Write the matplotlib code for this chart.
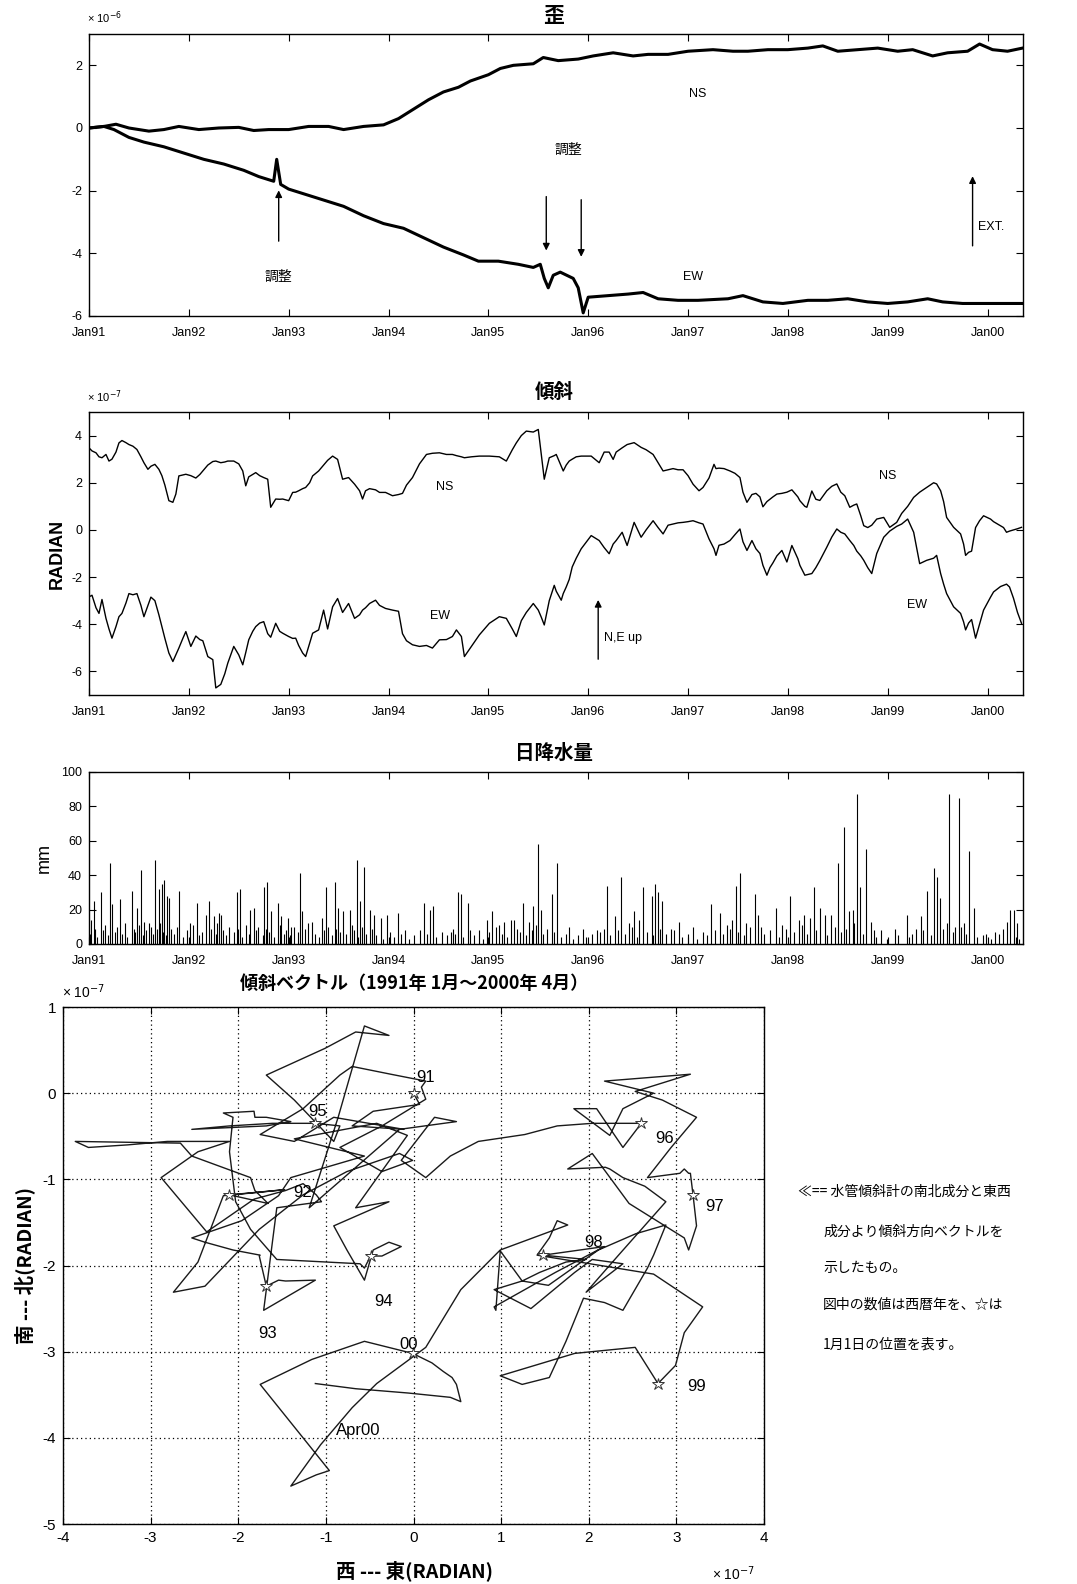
import numpy as np
import matplotlib.pyplot as plt

plt.rcParams['font.family'] = ['Liberation Sans Narrow', 'Liberation Sans', 'Noto Sans CJK JP', 'DejaVu Sans']
plt.rcParams['xtick.direction'] = 'in'
plt.rcParams['ytick.direction'] = 'in'
plt.rcParams['axes.unicode_minus'] = False
JP = ['Noto Sans CJK JP', 'DejaVu Sans']

# ---------------- data ----------------
# strain (x1e-6)
strain_ns_t = [1991.00, 1991.15, 1991.27, 1991.40, 1991.60, 1991.75, 1991.90, 1992.10, 1992.30, 1992.50,
               1992.65, 1992.80, 1993.00, 1993.20, 1993.40, 1993.55, 1993.75, 1993.95, 1994.10, 1994.25,
               1994.40, 1994.55, 1994.70, 1994.82, 1995.00, 1995.12, 1995.25, 1995.45, 1995.55, 1995.70,
               1995.90, 1996.05, 1996.25, 1996.45, 1996.60, 1996.80, 1997.00, 1997.25, 1997.45, 1997.60,
               1997.80, 1998.00, 1998.20, 1998.35, 1998.50, 1998.70, 1998.90, 1999.10, 1999.25, 1999.45,
               1999.60, 1999.80, 1999.92, 2000.05, 2000.20, 2000.35]
strain_ns = [0.0, 0.05, 0.12, 0.0, -0.1, -0.05, 0.05, -0.05, 0.0, 0.02,
             -0.08, -0.05, -0.05, 0.05, 0.05, -0.05, 0.05, 0.1, 0.3, 0.6,
             0.9, 1.15, 1.3, 1.5, 1.7, 1.9, 2.0, 2.05, 2.25, 2.15,
             2.2, 2.3, 2.4, 2.3, 2.35, 2.35, 2.45, 2.5, 2.45, 2.45,
             2.5, 2.5, 2.55, 2.62, 2.45, 2.5, 2.55, 2.45, 2.5, 2.3,
             2.4, 2.45, 2.68, 2.5, 2.45, 2.55]
strain_ew_t = [1991.00, 1991.15, 1991.25, 1991.40, 1991.55, 1991.75, 1991.95, 1992.15, 1992.35, 1992.55,
               1992.70, 1992.85, 1992.88, 1992.92, 1993.00, 1993.15, 1993.35, 1993.55, 1993.75, 1993.95,
               1994.15, 1994.35, 1994.55, 1994.75, 1994.90, 1995.10, 1995.30, 1995.45, 1995.52, 1995.56,
               1995.60, 1995.65, 1995.72, 1995.85, 1995.90, 1995.95, 1996.00, 1996.20, 1996.40, 1996.55,
               1996.70, 1996.90, 1997.10, 1997.40, 1997.55, 1997.75, 1997.95, 1998.20, 1998.40, 1998.60,
               1998.80, 1999.00, 1999.20, 1999.40, 1999.55, 1999.75, 2000.00, 2000.35]
strain_ew = [0.0, 0.05, -0.05, -0.3, -0.45, -0.6, -0.8, -1.0, -1.15, -1.35,
             -1.55, -1.7, -1.0, -1.8, -1.95, -2.1, -2.3, -2.5, -2.8, -3.05,
             -3.2, -3.5, -3.8, -4.05, -4.25, -4.25, -4.35, -4.45, -4.35, -4.8,
             -5.1, -4.7, -4.6, -4.8, -5.1, -5.9, -5.4, -5.35, -5.3, -5.25,
             -5.45, -5.5, -5.5, -5.45, -5.35, -5.55, -5.6, -5.5, -5.5, -5.45,
             -5.55, -5.6, -5.55, -5.45, -5.55, -5.6, -5.6, -5.6]

# tilt (x1e-7 radian), NS and EW sampled at the same dates
tilt_t = [1991.00, 1991.03, 1991.07, 1991.10, 1991.13, 1991.17, 1991.20, 1991.23, 1991.27, 1991.30,
          1991.33, 1991.37, 1991.40, 1991.44, 1991.48, 1991.52, 1991.55, 1991.59, 1991.62, 1991.66,
          1991.70, 1991.73, 1991.76, 1991.80, 1991.84, 1991.87, 1991.90, 1991.94, 1991.97, 1992.02,
          1992.07, 1992.11, 1992.14, 1992.19, 1992.24, 1992.27, 1992.32, 1992.36, 1992.39, 1992.45,
          1992.50, 1992.54, 1992.57, 1992.60, 1992.64, 1992.67, 1992.71, 1992.75, 1992.79, 1992.82,
          1992.87, 1992.91, 1992.94, 1993.00, 1993.04, 1993.07, 1993.10, 1993.14, 1993.17, 1993.21,
          1993.24, 1993.30, 1993.35, 1993.39, 1993.44, 1993.49, 1993.54, 1993.60, 1993.66, 1993.71,
          1993.74, 1993.77, 1993.81, 1993.87, 1993.91, 1993.97, 1994.04, 1994.10, 1994.14, 1994.18,
          1994.24, 1994.31, 1994.38, 1994.44, 1994.51, 1994.58, 1994.64, 1994.68, 1994.73, 1994.76,
          1994.83, 1994.91, 1995.01, 1995.11, 1995.18, 1995.24, 1995.28, 1995.33, 1995.38, 1995.45,
          1995.50, 1995.53, 1995.56, 1995.61, 1995.66, 1995.68, 1995.73, 1995.75, 1995.78, 1995.81,
          1995.84, 1995.88, 1995.93, 1996.03, 1996.11, 1996.16, 1996.21, 1996.25, 1996.28, 1996.34,
          1996.39, 1996.46, 1996.53, 1996.58, 1996.65, 1996.70, 1996.75, 1996.80, 1996.85, 1996.90,
          1996.95, 1997.00, 1997.05, 1997.11, 1997.15, 1997.21, 1997.26, 1997.28, 1997.31, 1997.36,
          1997.42, 1997.47, 1997.52, 1997.55, 1997.59, 1997.64, 1997.68, 1997.72, 1997.75, 1997.79,
          1997.82, 1997.85, 1997.89, 1997.94, 1997.99, 1998.04, 1998.10, 1998.12, 1998.17, 1998.19,
          1998.24, 1998.28, 1998.32, 1998.39, 1998.44, 1998.49, 1998.53, 1998.57, 1998.62, 1998.66,
          1998.69, 1998.73, 1998.76, 1998.80, 1998.84, 1998.89, 1998.93, 1998.96, 1999.02, 1999.09,
          1999.14, 1999.20, 1999.26, 1999.32, 1999.39, 1999.46, 1999.49, 1999.53, 1999.56, 1999.59,
          1999.66, 1999.73, 1999.76, 1999.78, 1999.81, 1999.84, 1999.88, 1999.92, 1999.96, 2000.03,
          2000.06, 2000.10, 2000.13, 2000.16, 2000.19, 2000.22, 2000.26, 2000.30, 2000.34]
tilt_ns = [3.48, 3.35, 3.27, 3.1, 3.06, 3.2, 2.92, 3.0, 3.3, 3.69,
           3.79, 3.7, 3.62, 3.55, 3.41, 3.1, 2.85, 2.57, 2.7, 2.78,
           2.57, 2.3, 1.9, 1.24, 1.17, 1.52, 2.29, 2.33, 2.36, 2.3,
           2.2, 2.35, 2.5, 2.75, 2.9, 2.92, 2.85, 2.88, 2.92, 2.92,
           2.8, 2.5, 1.87, 2.25, 2.35, 2.43, 2.3, 2.22, 2.15, 0.96,
           1.31, 1.3, 1.31, 1.24, 1.59, 1.6, 1.66, 1.75, 1.8, 2.0,
           2.29, 2.5, 2.75, 2.95, 3.13, 2.99, 2.15, 2.22, 1.94, 1.66,
           1.31, 1.66, 1.75, 1.7, 1.59, 1.59, 1.45, 1.5, 1.55, 1.9,
           2.22, 2.8, 3.2, 3.25, 3.27, 3.2, 3.2, 3.15, 3.1, 3.06,
           3.1, 3.13, 3.13, 3.1, 2.92, 3.4, 3.69, 4.0, 4.19, 4.15,
           4.26, 3.2, 2.15, 3.06, 3.15, 3.2, 2.7, 2.5, 2.75, 2.92,
           3.0, 3.1, 3.13, 3.13, 2.85, 3.3, 3.3, 2.99, 3.3, 3.48,
           3.62, 3.7, 3.5, 3.4, 3.2, 2.85, 2.5, 2.55, 2.6, 2.55,
           2.55, 2.3, 1.94, 1.66, 1.8, 2.2, 2.78, 2.6, 2.62, 2.6,
           2.5, 2.4, 2.22, 1.6, 1.17, 1.5, 1.55, 1.4, 0.98, 1.2,
           1.3, 1.4, 1.52, 1.55, 1.6, 1.7, 1.4, 1.24, 1.0, 0.96,
           1.65, 1.3, 1.25, 1.66, 1.85, 1.95, 1.6, 1.45, 0.96, 1.05,
           1.1, 0.6, 0.18, 0.1, 0.2, 0.46, 0.5, 0.53, 0.11, 0.32,
           0.7, 1.0, 1.38, 1.6, 1.8, 2.0, 1.95, 1.66, 1.2, 0.53,
           0.11, -0.17, -0.6, -1.08, -0.95, -0.9, 0.1, 0.39, 0.6, 0.46,
           0.35, 0.25, 0.18, 0.1, -0.1, -0.05, 0.0, 0.05, 0.11]
tilt_ew = [-2.84, -2.77, -3.3, -3.54, -2.95, -3.75, -4.2, -4.59, -4.1, -3.68,
           -3.54, -3.1, -2.7, -2.75, -2.7, -3.2, -3.68, -3.2, -2.85, -3.0,
           -3.6, -4.1, -4.6, -5.22, -5.58, -5.3, -5.01, -4.6, -4.31, -4.94,
           -4.5, -4.65, -4.7, -5.37, -5.5, -6.7, -6.55, -6.1, -5.65, -4.94,
           -5.3, -5.72, -5.2, -4.66, -4.3, -4.1, -3.95, -3.89, -4.4, -4.55,
           -3.96, -4.3, -4.38, -4.52, -4.6, -4.59, -4.9, -5.22, -5.37, -4.8,
           -4.38, -4.24, -3.4, -4.2, -3.26, -2.91, -3.5, -3.12, -3.75, -3.6,
           -3.4, -3.3, -3.12, -2.98, -3.2, -3.33, -3.4, -3.45, -4.4, -4.7,
           -4.87, -4.94, -4.9, -5.01, -4.66, -4.65, -4.52, -4.24, -4.52, -5.37,
           -4.94, -4.45, -3.96, -3.68, -3.75, -4.2, -4.52, -3.85, -3.5, -3.12,
           -3.4, -3.7, -4.03, -3.0, -2.35, -2.6, -2.98, -2.7, -2.42, -2.1,
           -1.57, -1.2, -0.8, -0.24, -0.45, -0.75, -1.01, -0.6, -0.45, -0.1,
           -0.66, 0.32, -0.31, 0.0, 0.39, 0.1, -0.17, 0.2, 0.25, 0.3,
           0.32, 0.35, 0.39, 0.3, 0.25, -0.38, -0.8, -1.08, -0.65, -0.6,
           -0.45, -0.2, 0.04, -0.5, -0.87, -0.45, -0.8, -1.0, -1.5, -1.92,
           -1.6, -1.4, -1.1, -0.87, -1.36, -0.66, -1.22, -1.5, -1.92, -1.9,
           -1.85, -1.6, -1.3, -0.73, -0.3, 0.04, -0.1, -0.17, -0.45, -0.66,
           -0.9, -1.1, -1.29, -1.6, -1.85, -1.0, -0.6, -0.31, -0.05, 0.15,
           0.25, 0.46, -0.1, -1.43, -1.29, -1.2, -1.08, -1.85, -2.3, -2.7,
           -3.26, -3.54, -3.9, -4.24, -3.95, -3.8, -4.59, -4.0, -3.4, -2.85,
           -2.63, -2.5, -2.4, -2.35, -2.3, -2.42, -2.9, -3.5, -3.96]

# daily rainfall (days after 1 Jan 1991, mm)
rain_day = [8, 18, 45, 75, 83, 113, 156, 176, 191, 201, 218, 241, 256, 266, 276, 286, 294, 331, 369, 394,
            427, 439, 457, 477, 484, 540, 552, 590, 602, 640, 653, 665, 690, 703, 728, 740, 773, 781, 816, 853,
            866, 899, 911, 929, 954, 979, 991, 1007, 1029, 1042, 1067, 1092, 1130, 1155, 1225, 1247, 1260, 1323, 1350, 1360,
            1385, 1426, 1456, 1476, 1501, 1519, 1544, 1556, 1586, 1611, 1626, 1642, 1652, 1692, 1712, 1757, 1807, 1857, 1895, 1923,
            1945, 1975, 1995, 2013, 2028, 2058, 2071, 2083, 2098, 2128, 2158, 2209, 2246, 2277, 2309, 2334, 2354, 2367, 2382, 2405,
            2435, 2447, 2460, 2515, 2535, 2565, 2598, 2615, 2636, 2651, 2673, 2691, 2716, 2741, 2761, 2781, 2794, 2811, 2821, 2841,
            2861, 2897, 2949, 2992, 3025, 3042, 3067, 3092, 3102, 3112, 3138, 3148, 3168, 3183, 3200, 3220, 3238, 3283, 3313, 3358,
            3371, 3384, 3394, 3404]
rain_mm = [14, 25, 30, 47, 23, 26, 31, 21, 43, 13, 12, 49, 32, 35, 37, 28, 27, 31, 12, 24,
           17, 25, 16, 18, 17, 30, 32, 20, 21, 33, 36, 19, 24, 16, 15, 10, 41, 19, 13, 15,
           33, 36, 21, 19, 20, 49, 25, 45, 20, 17, 15, 17, 18, 8, 24, 20, 22, 7, 30, 29,
           24, 8, 14, 19, 11, 13, 14, 14, 24, 13, 22, 58, 20, 29, 47, 10, 9, 8, 34, 16,
           39, 12, 19, 14, 33, 28, 35, 30, 25, 9, 13, 10, 7, 23, 18, 11, 14, 34, 41, 12,
           29, 17, 10, 21, 11, 28, 14, 17, 15, 33, 21, 17, 17, 47, 68, 19, 20, 87, 33, 55,
           13, 8, 9, 17, 9, 16, 31, 44, 39, 27, 12, 87, 10, 85, 12, 54, 21, 6, 7, 13,
           20, 20, 12, 3]
small_day = [3, 22, 30, 52, 60, 68, 95, 104, 122, 130, 140, 163, 170, 183, 196, 208, 225, 233, 248, 260,
             270, 281, 300, 312, 322, 345, 360, 380, 402, 415, 445, 463, 470, 490, 500, 512, 530, 545, 560, 575,
             585, 610, 620, 635, 646, 660, 675, 697, 712, 720, 735, 750, 765, 790, 800, 825, 840, 860, 875, 890,
             905, 920, 940, 962, 970, 985, 998, 1015, 1035, 1050, 1075, 1100, 1115, 1140, 1170, 1190, 1210, 1235, 1270, 1290,
             1310, 1330, 1340, 1370, 1395, 1410, 1440, 1465, 1490, 1510, 1530, 1565, 1575, 1598, 1620, 1635, 1660, 1675, 1700, 1725,
             1745, 1770, 1790, 1820, 1840, 1870, 1885, 1905, 1935, 1960, 1985, 2005, 2040, 2065, 2090, 2110, 2140, 2170, 2190, 2225,
             2260, 2290, 2320, 2345, 2375, 2395, 2420, 2470, 2490, 2525, 2550, 2580, 2610, 2625, 2660, 2700, 2730, 2750, 2770, 2800,
             2830, 2870, 2880, 2920, 2960, 3000, 3010, 3050, 3080, 3125, 3160, 3190, 3210, 3250, 3270, 3300, 3330, 3345, 3390]
small_mm = [6, 9, 4, 8, 11, 5, 7, 10, 6, 12, 4, 9, 7, 11, 5, 8, 10, 6, 9, 12,
            7, 5, 9, 6, 10, 4, 8, 11, 5, 7, 9, 6, 12, 8, 5, 10, 7, 9, 4, 11,
            6, 8, 10, 5, 9, 7, 4, 11, 6, 8, 5, 10, 7, 9, 12, 6, 4, 8, 10, 5,
            9, 7, 6, 11, 8, 4, 10, 6, 9, 5, 3, 7, 4, 6, 3, 5, 8, 6, 4, 7,
            5, 9, 6, 4, 8, 5, 3, 7, 10, 6, 4, 9, 7, 5, 8, 11, 6, 9, 7, 4,
            6, 3, 5, 4, 6, 7, 9, 5, 8, 6, 10, 4, 7, 5, 9, 6, 8, 4, 6, 3,
            5, 8, 6, 9, 7, 5, 10, 6, 8, 4, 9, 7, 11, 6, 8, 5, 10, 7, 9, 12,
            6, 8, 4, 3, 5, 4, 6, 8, 5, 9, 7, 10, 6, 4, 5, 3, 6, 9, 4]

years = list(range(1991, 2001))
year_labels = ['Jan91', 'Jan92', 'Jan93', 'Jan94', 'Jan95', 'Jan96', 'Jan97', 'Jan98', 'Jan99', 'Jan00']
vec_year_text = ['91', '92', '93', '94', '95', '96', '97', '98', '99', '00']

# ---------------- figure ----------------
W, H = 1077, 1584
fig = plt.figure(figsize=(W / 100, H / 100), dpi=100)


def box(l, t, r, b):
    return [l / W, 1 - b / H, (r - l) / W, (b - t) / H]


def ftext(x, y, s, **kw):
    fig.text(x / W, 1 - y / H, s, **kw)


def time_axis(ax):
    ax.set_xlim(1991, 2000.355)
    ax.set_xticks(years)
    ax.set_xticklabels(year_labels)
    ax.tick_params(top=True, right=True, length=5, width=0.8, labelsize=9)
    ax.tick_params(axis='x', pad=8)
    ax.tick_params(axis='y', pad=5)
    for s in ax.spines.values():
        s.set_linewidth(1.0)


# strain
ax1 = fig.add_axes(box(89, 34, 1023, 316))
ax1.plot(strain_ns_t, strain_ns, color='k', lw=2.2)
ax1.plot(strain_ew_t, strain_ew, color='k', lw=2.2)
ax1.set_ylim(-6, 3)
ax1.set_yticks([-6, -4, -2, 0, 2])
time_axis(ax1)
ax1.text(1997.1, 1.1, 'NS', fontsize=9, ha='center', va='center')
ax1.text(1997.05, -4.75, 'EW', fontsize=9, ha='center', va='center')
ax1.text(1995.8, -0.7, '調整', fontsize=10, ha='center', va='center', family=JP)
ax1.text(1992.9, -4.75, '調整', fontsize=10, ha='center', va='center', family=JP)
ax1.text(1999.9, -3.15, 'EXT.', fontsize=9, ha='left', va='center')
arrow = dict(arrowstyle='-|>', color='k', lw=1.0, mutation_scale=10)
ax1.annotate('', xy=(1992.9, -1.9), xytext=(1992.9, -3.7), arrowprops=arrow)
ax1.annotate('', xy=(1995.58, -4.0), xytext=(1995.58, -2.1), arrowprops=arrow)
ax1.annotate('', xy=(1995.93, -4.2), xytext=(1995.93, -2.2), arrowprops=arrow)
ax1.annotate('', xy=(1999.85, -1.45), xytext=(1999.85, -3.85), arrowprops=arrow)
ftext(554, 16, '歪', fontsize=15, fontweight='bold', ha='center', va='center', family=JP)
ftext(87, 18, '× 10$^{-6}$', fontsize=8, ha='left', va='center')

# tilt
ax2 = fig.add_axes(box(89, 412, 1023, 695))
ax2.plot(tilt_t, tilt_ns, color='k', lw=1.0)
ax2.plot(tilt_t, tilt_ew, color='k', lw=1.0)
ax2.set_ylim(-7, 5)
ax2.set_yticks([-6, -4, -2, 0, 2, 4])
time_axis(ax2)
ax2.text(1994.56, 1.8, 'NS', fontsize=9, ha='center', va='center')
ax2.text(1999.0, 2.3, 'NS', fontsize=9, ha='center', va='center')
ax2.text(1994.52, -3.65, 'EW', fontsize=9, ha='center', va='center')
ax2.text(1999.29, -3.2, 'EW', fontsize=9, ha='center', va='center')
ax2.annotate('', xy=(1996.1, -2.85), xytext=(1996.1, -5.6), arrowprops=arrow)
ax2.text(1996.16, -4.6, 'N,E up', fontsize=9, ha='left', va='center')
ax2.set_ylabel('RADIAN', fontsize=13, fontweight='bold', family=['Liberation Sans', 'DejaVu Sans'], labelpad=4)
ftext(554, 392, '傾斜', fontsize=14, fontweight='bold', ha='center', va='center', family=JP)
ftext(87, 397, '× 10$^{-7}$', fontsize=8, ha='left', va='center')

# rain
ax3 = fig.add_axes(box(89, 772, 1023, 944))
rd = 1991 + np.array(rain_day + small_day) / 365.25
rm = np.array(rain_mm + small_mm)
ax3.vlines(rd, 0, rm, color='k', lw=0.8)
ax3.set_ylim(0, 100)
ax3.set_yticks([0, 20, 40, 60, 80, 100])
time_axis(ax3)
ax3.set_ylabel('mm', fontsize=13, family=['Liberation Sans', 'DejaVu Sans'], labelpad=6)
ftext(554, 753, '日降水量', fontsize=14, fontweight='bold', ha='center', va='center', family=JP)

# tilt vector
ax4 = fig.add_axes(box(63, 1007, 764, 1524))
tt = np.array(tilt_t)
vx = np.array(tilt_ew) - tilt_ew[0]
vy = np.array(tilt_ns) - tilt_ns[0]
ax4.plot(vx, vy, color='#1a1a1a', lw=1.0)
for yr in years:
    i = int(np.argmin(np.abs(tt - yr)))
    ax4.plot(vx[i], vy[i], marker='*', ms=9, mfc='white', mec='#333333', mew=0.7)
lab_xy = [(0.14, 0.18), (-1.26, -1.15), (-1.66, -2.79), (-0.34, -2.42), (-1.09, -0.21),
          (2.86, -0.53), (3.44, -1.32), (2.06, -1.73), (3.23, -3.41), (-0.06, -2.92)]
for (lx, ly), s in zip(lab_xy, vec_year_text):
    ax4.text(lx, ly, s, fontsize=12, ha='center', va='center')
ax4.text(-0.63, -3.92, 'Apr00', fontsize=12, ha='center', va='center')
ax4.set_xlim(-4, 4)
ax4.set_ylim(-5, 1)
ax4.set_xticks(range(-4, 5))
ax4.set_yticks(range(-5, 2))
ax4.grid(True, linestyle=(0, (1, 2.5)), color='k', lw=0.9)
ax4.tick_params(top=True, right=True, length=5, width=0.8, labelsize=11, pad=5)
for s in ax4.spines.values():
    s.set_linewidth(1.0)
ftext(414, 983, '傾斜ベクトル（1991年 1月～2000年 4月）', fontsize=13, fontweight='bold',
      ha='center', va='center', family=JP)
ftext(62, 992, '× 10$^{-7}$', fontsize=10, ha='left', va='center')
ftext(712, 1574, '× 10$^{-7}$', fontsize=10, ha='left', va='center')
ftext(414, 1571, '西 --- 東(RADIAN)', fontsize=14, fontweight='bold', ha='center', va='center', family=JP)
ftext(25, 1265, '南 --- 北(RADIAN)', fontsize=14, fontweight='bold', ha='center', va='center',
      rotation=90, family=JP)

# side note
note = ['≪== 水管傾斜計の南北成分と東西',
        '成分より傾斜方向ベクトルを',
        '示したもの。',
        '図中の数値は西暦年を、☆は',
        '1月1日の位置を表す。']
note_xy = [(798, 1192), (823, 1232), (823, 1268), (823, 1305), (823, 1345)]
for (nx, ny), s in zip(note_xy, note):
    ftext(nx, ny, s, fontsize=10, ha='left', va='center', family=JP)

fig.savefig('out.png', dpi=100)
